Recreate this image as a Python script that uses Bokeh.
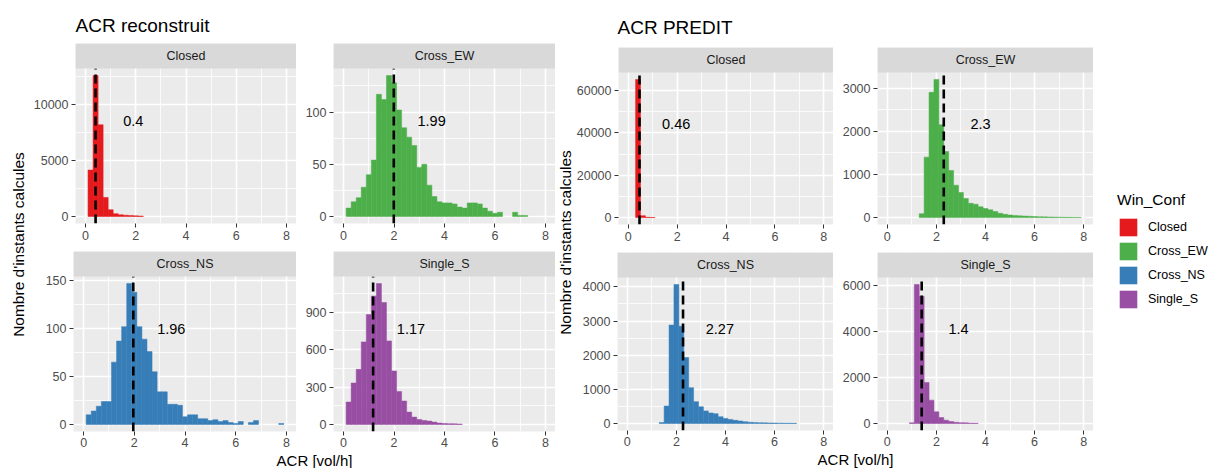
from bokeh.plotting import figure
from bokeh.layouts import row, column
from bokeh.models import (Range1d, FixedTicker, BasicTickFormatter, BoxAnnotation,
                          Label, Legend, LegendItem)
from bokeh.embed import file_html
from bokeh.resources import INLINE
from bokeh.core.properties import value

FONT = "Liberation Sans"

# ---------------- data ----------------
BIN_CENTERS = [0.2, 0.4, 0.6, 0.8, 1.0, 1.2, 1.4, 1.6, 1.8, 2.0, 2.2, 2.4, 2.6, 2.8,
               3.0, 3.2, 3.4, 3.6, 3.8, 4.0, 4.2, 4.4, 4.6, 4.8, 5.0, 5.2, 5.4, 5.6,
               5.8, 6.0, 6.2, 6.4, 6.6, 6.8, 7.0, 7.2, 7.4, 7.6, 7.8, 8.0]
BIN_WIDTH = 0.2

CONFS = ["Closed", "Cross_EW", "Cross_NS", "Single_S"]
COLORS = ["#E41A1C", "#4DAF4A", "#377EB8", "#984EA3"]
GROUP_TITLES = ["ACR reconstruit", "ACR PREDIT"]
Y_TITLE = "Nombre d'instants calcules"
X_TITLE = "ACR [vol/h]"
LEGEND_TITLE = "Win_Conf"
X_TICKS = [0, 2, 4, 6, 8]

# ACR reconstruit (counts per bin, starting at bin centre 0.2)
RECON_CLOSED = [4150, 12600, 8200, 1700, 600, 250, 150, 110, 80, 55, 35]
RECON_CROSS_EW = [8, 14, 18, 28, 40, 54, 117, 112, 135, 128, 102, 85, 76, 68, 47, 50,
                  30, 19, 14, 13, 13, 12, 9, 8, 13, 13, 12, 8, 5, 3, 4, 0, 0, 4, 1, 1]
RECON_CROSS_NS = [10, 14, 19, 24, 24, 65, 87, 102, 147, 138, 102, 89, 76, 55, 34, 34,
                  21, 21, 20, 8, 10, 10, 6, 6, 4, 5, 3, 4, 2, 1, 3, 0, 2, 4, 0, 0, 0, 0, 1]
RECON_SINGLE_S = [180, 332, 442, 662, 881, 1029, 1130, 978, 670, 429, 265, 188, 99,
                  59, 40, 32, 27, 19, 11, 8, 6, 5, 3]
RECON_MEANS = [0.4, 1.99, 1.96, 1.17]
RECON_YTICKS = [[0, 5000, 10000], [0, 50, 100], [0, 50, 100, 150], [0, 300, 600, 900]]

# ACR PREDIT
PRED_CLOSED = [0, 65200, 900, 150, 50]
PRED_CROSS_EW = [0, 0, 0, 0, 0, 0, 90, 1400, 2900, 3200, 2150, 1530, 1090, 750, 580,
                 440, 330, 310, 250, 210, 180, 140, 100, 75, 60, 50, 40, 35, 30, 25,
                 20, 18, 15, 12, 10, 8, 6, 5, 3]
PRED_CROSS_NS = [0, 0, 0, 0, 0, 0, 30, 510, 2880, 4070, 2850, 1930, 1050, 640, 490,
                 370, 310, 290, 200, 150, 120, 95, 75, 55, 40, 30, 25, 20, 18, 15, 12,
                 10, 8, 6]
PRED_SINGLE_S = [0, 0, 0, 0, 30, 6060, 5550, 1790, 1020, 510, 260, 145, 90, 55, 40,
                 30, 15, 12]
PRED_MEANS = [0.46, 2.3, 2.27, 1.4]
PRED_YTICKS = [[0, 20000, 40000, 60000], [0, 1000, 2000, 3000],
               [0, 1000, 2000, 3000, 4000], [0, 2000, 4000, 6000]]

RECON = [RECON_CLOSED, RECON_CROSS_EW, RECON_CROSS_NS, RECON_SINGLE_S]
PRED = [PRED_CLOSED, PRED_CROSS_EW, PRED_CROSS_NS, PRED_SINGLE_S]

# ---------------- style ----------------
PANEL_BG = "#EBEBEB"
STRIP_BG = "#D9D9D9"
TICK_TXT = "#4D4D4D"
TICK_LINE = "#333333"
TICK_SIZE = "12.5px"
STRIP_H = 25
X_MIN, X_MAX = -0.4, 8.4
TOTAL_H = 468


def panel(counts, mean, color, name, yticks, left_border, frame_w, panel_h, bottom_border,
          standoff):
    pts = [(c, n) for c, n in zip(BIN_CENTERS, counts) if n > 0]
    left = [c - BIN_WIDTH / 2 for c, n in pts]
    right = [c + BIN_WIDTH / 2 for c, n in pts]
    tops = [n for c, n in pts]
    ymax = max(counts)
    y0 = -0.05 * ymax
    y1 = 1.05 * ymax
    ytop = y1 + (y1 - y0) * STRIP_H / panel_h

    p = figure(width=left_border + frame_w, height=STRIP_H + panel_h + bottom_border,
               x_range=Range1d(X_MIN, X_MAX), y_range=Range1d(y0, ytop),
               toolbar_location=None, output_backend="svg", title=None,
               min_border_left=left_border, min_border_right=0,
               min_border_top=0, min_border_bottom=bottom_border)
    p.background_fill_color = PANEL_BG
    p.border_fill_color = "white"
    p.outline_line_color = None

    p.quad(left=left, right=right, bottom=0, top=tops, fill_color=color,
           line_color=color, line_width=0.5)
    p.segment(x0=[mean], x1=[mean], y0=[y0], y1=[y1], line_color="black",
              line_width=2.6, line_dash="9 5")
    p.text(x=[mean + 1.5], y=[0.68 * ymax], text=[str(mean)], text_align="center",
           text_baseline="middle", text_font=value(FONT), text_font_size="14.5px",
           text_color="black")

    p.add_layout(BoxAnnotation(bottom=y1, fill_color=STRIP_BG, fill_alpha=1.0,
                               line_color=None, line_alpha=0))
    p.add_layout(Label(x=(X_MIN + X_MAX) / 2, y=(y1 + ytop) / 2, text=name,
                       text_align="center", text_baseline="middle", text_font=FONT,
                       text_font_size=TICK_SIZE, text_color="#1A1A1A"))

    step = yticks[1] - yticks[0]
    yminor = [t + step / 2 for t in yticks if t + step / 2 < y1]
    p.xaxis.ticker = FixedTicker(ticks=X_TICKS, minor_ticks=[t + 1 for t in X_TICKS[:-1]])
    p.yaxis.ticker = FixedTicker(ticks=yticks, minor_ticks=yminor)
    p.yaxis.formatter = BasicTickFormatter(use_scientific=False)
    for ax in (p.xaxis, p.yaxis):
        ax.axis_line_color = None
        ax.major_tick_line_color = TICK_LINE
        ax.major_tick_line_width = 1
        ax.major_tick_out = 4
        ax.major_tick_in = 0
        ax.minor_tick_line_color = None
        ax.major_label_text_color = TICK_TXT
        ax.major_label_text_font = FONT
        ax.major_label_text_font_size = TICK_SIZE
        ax.major_label_standoff = 3
    p.xaxis.major_label_standoff = standoff
    for g in (p.xgrid, p.ygrid):
        g.grid_line_color = "white"
        g.grid_line_width = 1.6
        g.minor_grid_line_color = "white"
        g.minor_grid_line_width = 0.8
    return p


def text_fig(w, h, x, y, text, size, angle=0.0, align="center"):
    f = figure(width=w, height=h, x_range=Range1d(0, w), y_range=Range1d(0, h),
               toolbar_location=None, output_backend="svg", title=None,
               x_axis_location=None, y_axis_location=None, min_border=0)
    f.outline_line_color = None
    f.grid.visible = False
    f.text(x=[x], y=[y], text=[text], angle=angle, text_align=align,
           text_baseline="middle", text_font=value(FONT), text_font_size=size,
           text_color="black")
    return f


def group(series, means, yticks, title, borders, frame_ws, title_h, title_x, title_y,
          panel_hs, bottom_bs, xlab_h, ylab_w, ylab_x, ylab_y):
    figs = []
    for i in range(4):
        col = i % 2
        r = i // 2
        figs.append(panel(series[i], means[i], COLORS[i], CONFS[i], yticks[i],
                          borders[col], frame_ws[col], panel_hs[r], bottom_bs[r],
                          3 if r == 0 else 2))
    total_w = sum(borders) + sum(frame_ws)
    t = text_fig(total_w, title_h, title_x, title_y, title, "19px", align="left")
    xl_x = borders[0] + (sum(frame_ws) + borders[1]) / 2
    xl = text_fig(total_w, xlab_h, xl_x, xlab_h / 2, X_TITLE, "15px")
    col = column(t, row(figs[0], figs[1]), row(figs[2], figs[3]), xl)
    yl = text_fig(ylab_w, TOTAL_H, ylab_x, ylab_y, Y_TITLE, "15.5px", angle=1.5707963)
    # wrapped in a column so that its frame is not aligned with sibling plots
    return column(yl), col


# left group: 43 + (25+155+28) + (25+155+20) + 17 = 468
ylL, colL = group(RECON, RECON_MEANS, RECON_YTICKS, GROUP_TITLES[0],
                  [43, 37], [223, 222], 43, 45, 18, [155, 155], [28, 20], 17,
                  30, 18, 224)
# right group: 47 + (25+152+28) + (25+153+20) + 18 = 468
ylR, colR = group(PRED, PRED_MEANS, PRED_YTICKS, GROUP_TITLES[1],
                  [44, 44], [216, 216], 47, 44, 20, [152, 153], [28, 20], 18,
                  18, 10, 226)

# legend figure: renderers hold the reconstructed data but lie outside the visible range
lg = figure(width=115, height=TOTAL_H, x_range=Range1d(0, 1), y_range=Range1d(-2, -1),
            toolbar_location=None, output_backend="svg", title=None,
            x_axis_location=None, y_axis_location=None,
            min_border_left=24, min_border_top=191, min_border_right=0, min_border_bottom=0)
lg.outline_line_color = None
lg.background_fill_color = "white"
lg.grid.visible = False
items = []
for name, colr, counts in zip(CONFS, COLORS, RECON):
    r = lg.quad(left=[c - BIN_WIDTH / 2 for c in BIN_CENTERS[:len(counts)]],
                right=[c + BIN_WIDTH / 2 for c in BIN_CENTERS[:len(counts)]],
                top=counts, bottom=0, fill_color=colr, line_color=None)
    items.append(LegendItem(label=name, renderers=[r]))
legend = Legend(items=items, location="top_left", title=LEGEND_TITLE, margin=0, padding=0,
                spacing=2, glyph_width=22, glyph_height=22, label_height=22,
                label_standoff=9, title_standoff=7, border_line_color=None,
                background_fill_alpha=0, label_text_font=FONT, label_text_font_size="12.5px",
                label_text_color="black", title_text_font=FONT,
                title_text_font_size="15.5px", title_text_font_style="normal",
                title_text_color="black")
lg.add_layout(legend)

layout = row(ylL, colL, ylR, colR, column(lg))

open("out.html", "w").write(file_html(layout, INLINE))
